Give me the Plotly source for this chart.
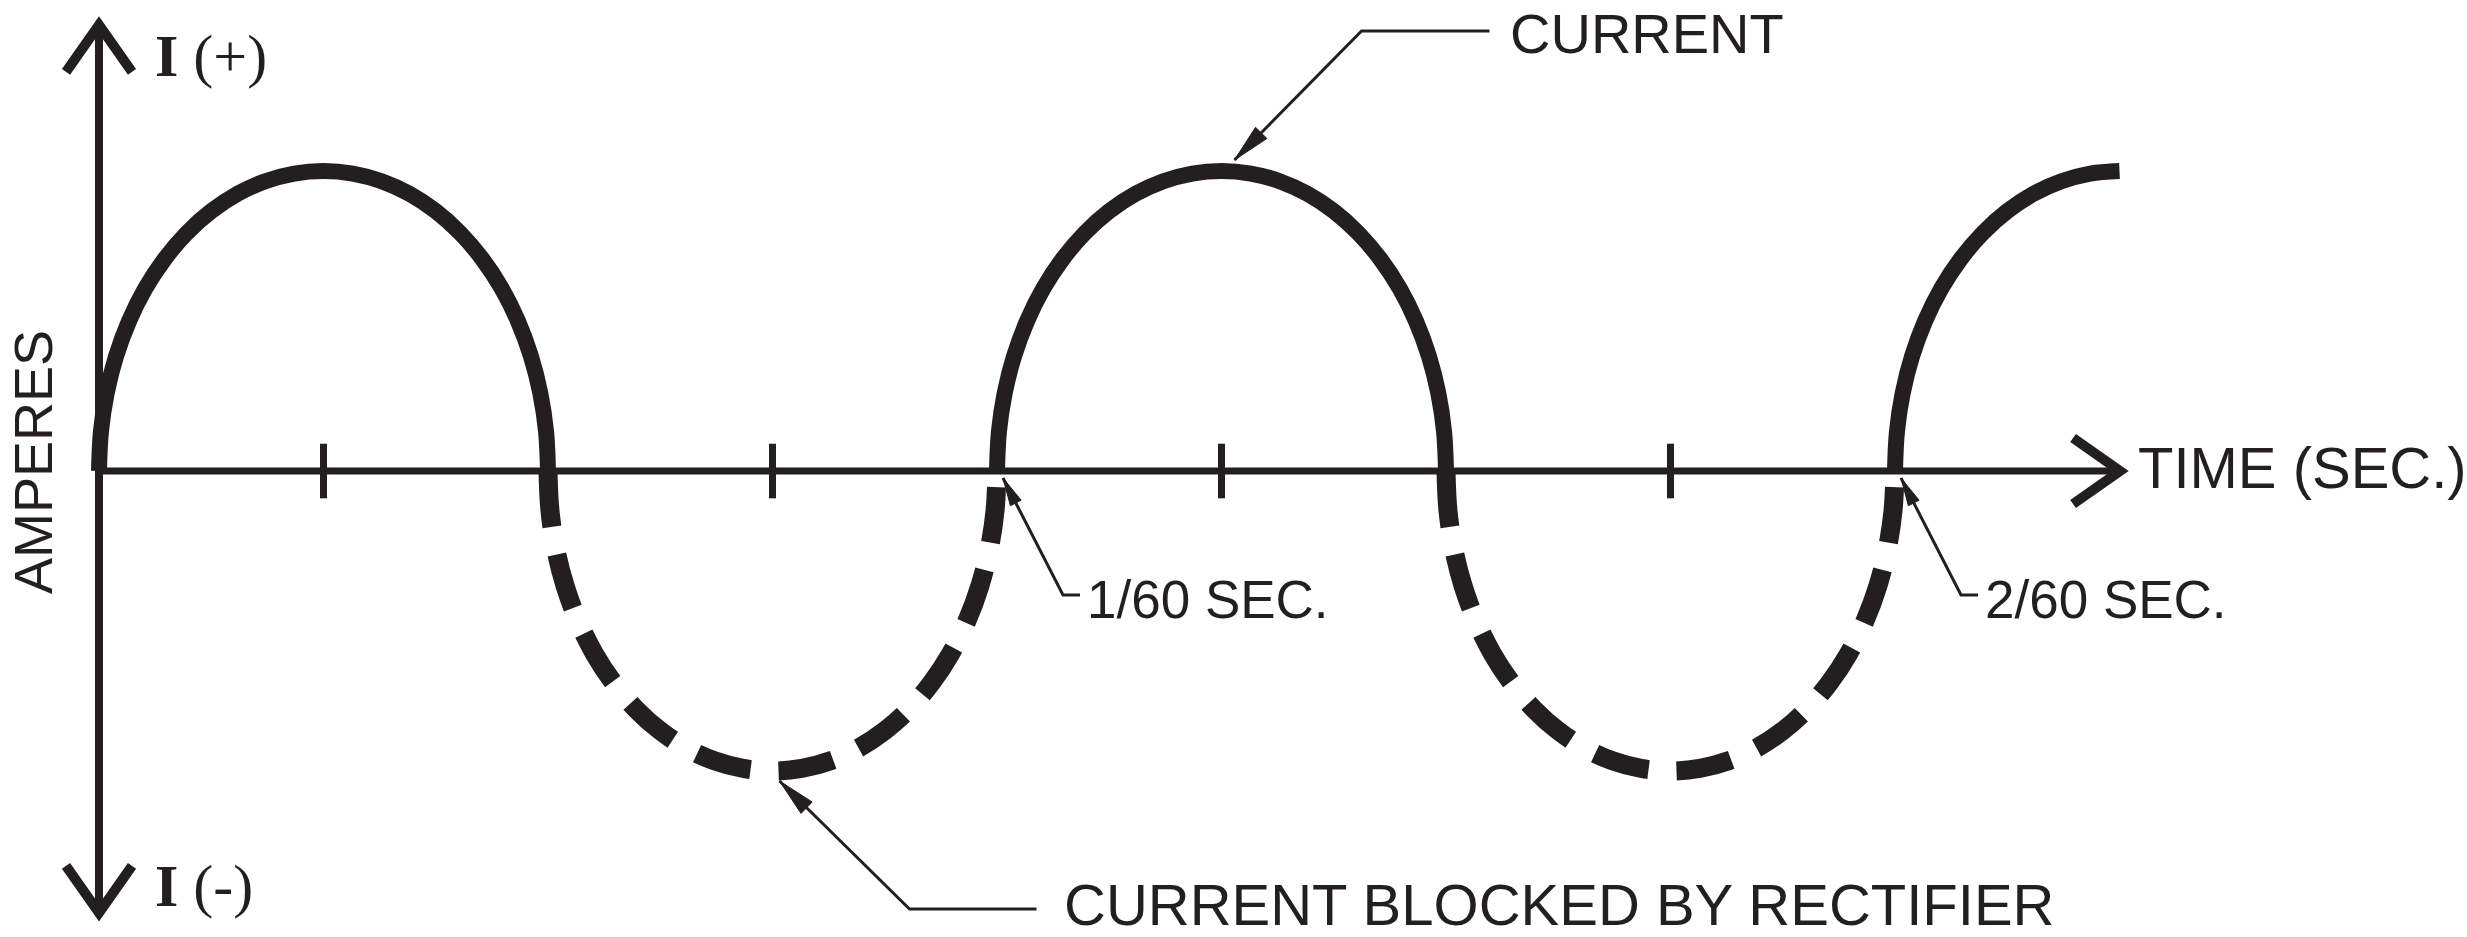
import math
import plotly.graph_objects as go

# ---------------- data ----------------
PERIOD = 1 / 60            # seconds per cycle
HALF = PERIOD / 2          # seconds per half-cycle
PEAK = 1.0                 # peak current (relative amperes)

# shape of one half-cycle as drawn (nearly a half-ellipse):
# fraction of the half-cycle -> fraction of peak
half_fraction = [0.0, 0.00428, 0.01704, 0.03806, 0.06699, 0.10332, 0.14645, 0.19562, 0.25,
                 0.30866, 0.37059, 0.43474, 0.5,
                 0.56526, 0.62941, 0.69134, 0.75, 0.80438, 0.85355, 0.89668, 0.93301,
                 0.96194, 0.98296, 0.99572, 1.0]
half_level = [0.0, 0.1305, 0.2588, 0.3827, 0.5, 0.6088, 0.7071, 0.7934, 0.8660,
              0.9239, 0.9659, 0.9914, 1.0,
              0.9914, 0.9659, 0.9239, 0.8660, 0.7934, 0.7071, 0.6088, 0.5,
              0.3827, 0.2588, 0.1305, 0.0]

passed_starts = [0.0, 2 / 120, 4 / 120]     # positive half-cycles (solid)
passed_portion = [1.0, 1.0, 0.5]            # last one drawn up to its crest
blocked_starts = [1 / 120, 3 / 120]         # negative half-cycles (dashed)

tick_times = [1 / 240, 3 / 240, 5 / 240, 7 / 240]
marked_times = [1 / 60, 2 / 60]
marked_labels = ["1/60 SEC.", "2/60 SEC."]

TIME_AXIS_END = 0.03751     # s, arrow tip of the time axis
AMP_AXIS_TOP = 1.487
AMP_AXIS_BOTTOM = -1.473

# ---------------- style ----------------
INK = "#231f20"
SANS = "Liberation Sans, Arial, sans-serif"
SERIF = "Liberation Serif, Times New Roman, serif"
W, H = 2467, 937
X_RANGE = [-0.0018374, 0.0439494]
Y_RANGE = [-1.5533, 1.57]


def build(starts, portions, sign):
    t, i = [], []
    for s, p in zip(starts, portions):
        for f, v in zip(half_fraction, half_level):
            if f <= p + 1e-9:
                t.append(s + f * HALF)
                i.append(sign * v * PEAK)
        t.append(None)
        i.append(None)
    return t, i


pt, pi_ = build(passed_starts, passed_portion, 1)
bt, bi = build(blocked_starts, [1.0] * len(blocked_starts), -1)

fig = go.Figure()
fig.add_trace(go.Scatter(x=pt, y=pi_, mode="lines",
                         line=dict(color=INK, width=16, shape="spline", smoothing=1.0),
                         hoverinfo="skip", showlegend=False))
fig.add_trace(go.Scatter(x=bt, y=bi, mode="lines",
                         line=dict(color=INK, width=19, dash="56px,28px", shape="spline", smoothing=1.0),
                         hoverinfo="skip", showlegend=False))
fig.add_trace(go.Scatter(x=tick_times, y=[0] * len(tick_times), mode="markers",
                         marker=dict(symbol="line-ns", size=39, line=dict(width=7, color=INK)),
                         hoverinfo="skip", showlegend=False))

shapes = []
# axes
shapes.append(dict(type="line", xref="x", yref="y", x0=0, x1=0, y0=AMP_AXIS_BOTTOM, y1=AMP_AXIS_TOP,
                   line=dict(color=INK, width=8)))
shapes.append(dict(type="line", xref="x", yref="y", x0=0, x1=TIME_AXIS_END, y0=0, y1=0,
                   line=dict(color=INK, width=7)))


def pix_path(xa, ya, path, width, fill=None):
    d = dict(type="path", xref="x", yref="y", xsizemode="pixel", ysizemode="pixel",
             xanchor=xa, yanchor=ya, path=path, line=dict(color=INK, width=width))
    if fill:
        d["fillcolor"] = fill
    return d


# open arrowheads on the axes
shapes.append(pix_path(0, AMP_AXIS_TOP, "M -33,-47 L 0,0 L 33,-47", 10))
shapes.append(pix_path(0, AMP_AXIS_BOTTOM, "M -33,47 L 0,0 L 33,47", 10))
shapes.append(pix_path(TIME_AXIS_END, 0, "M -47,33 L 0,0 L -47,-33", 10))


def leader(t, i, tip, knee, end, head_len, head_half):
    out = [pix_path(t, i, f"M {end[0]},{end[1]} L {knee[0]},{knee[1]} L {tip[0]},{tip[1]}", 3)]
    dx, dy = tip[0] - knee[0], tip[1] - knee[1]
    n = math.hypot(dx, dy)
    ux, uy = dx / n, dy / n
    bx, by = tip[0] - head_len * ux, tip[1] - head_len * uy
    px, py = -uy * head_half, ux * head_half
    out.append(pix_path(t, i, f"M {tip[0]},{tip[1]} L {bx + px:.1f},{by + py:.1f} "
                              f"L {bx - px:.1f},{by - py:.1f} Z", 1, INK))
    return out


annotations = []


def label(t, i, text, xs, ys, size, family=SANS, angle=0, xanchor="left"):
    annotations.append(dict(x=t, y=i, xref="x", yref="y", text=text, showarrow=False,
                            xanchor=xanchor, yanchor="middle", xshift=xs, yshift=ys, textangle=angle,
                            font=dict(family=family, size=size, color=INK)))


# CURRENT -> crest of second positive half-cycle
crest_t = passed_starts[1] + HALF / 2
shapes += leader(crest_t, PEAK, (13, 11), (140, 140), (268, 140), 38, 8)
label(crest_t, PEAK, "CURRENT", 286, 138, 56)

# CURRENT BLOCKED BY RECTIFIER -> trough of first blocked half-cycle
trough_t = blocked_starts[0] + HALF / 2
shapes += leader(trough_t, -PEAK, (7, -10), (137, -138), (264, -138), 38, 8)
label(trough_t, -PEAK, "CURRENT BLOCKED BY RECTIFIER", 289, -133, 58)

# 1/60 and 2/60 second markers
for mt, ml in zip(marked_times, marked_labels):
    shapes += leader(mt, 0, (6, -7), (66, -124), (83, -124), 28, 6)
    label(mt, 0, ml, 88, -128, 53)

# axis labels
label(0, AMP_AXIS_TOP, "<b>I</b> (+)", 54, -31, 60, family=SERIF)
label(0, AMP_AXIS_BOTTOM, "<b>I</b> (-)", 54, 27, 60, family=SERIF)
label(0, 0, "AMPERES", -66, 9, 54, angle=-90, xanchor="center")
label(TIME_AXIS_END, 0, "TIME (SEC.)", 16, 4, 58)

fig.update_layout(
    width=W, height=H,
    margin=dict(l=0, r=0, t=0, b=0, pad=0),
    paper_bgcolor="white", plot_bgcolor="white",
    xaxis=dict(range=X_RANGE, visible=False, fixedrange=True),
    yaxis=dict(range=Y_RANGE, visible=False, fixedrange=True),
    shapes=shapes, annotations=annotations,
    showlegend=False,
)

fig.write_html("out.html", config={"displayModeBar": False},
               post_script="document.body.style.margin='0';document.body.style.overflow='hidden';")
